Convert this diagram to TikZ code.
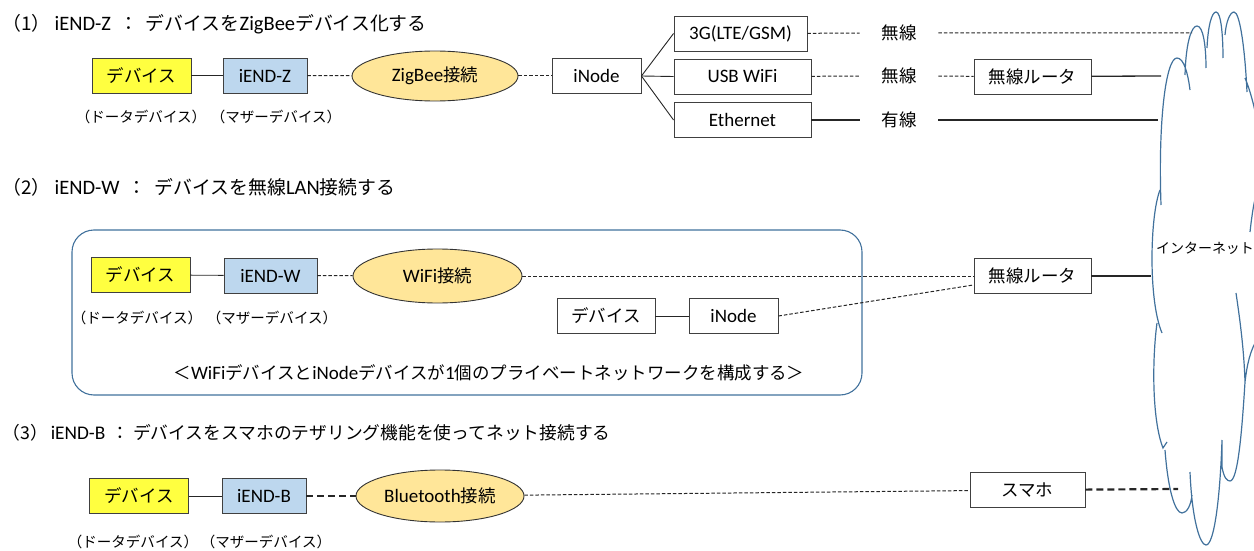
\documentclass[tikz,border=0pt]{standalone}
\usepackage{fontspec}
\setmainfont{Carlito}
\newfontfamily\jp[Scale=0.92]{Noto Sans CJK JP}
\usetikzlibrary{shapes.geometric}
\definecolor{devyellow}{RGB}{255,255,64}
\definecolor{iendblue}{RGB}{189,215,238}
\definecolor{linkorange}{RGB}{255,230,153}
\definecolor{cloudblue}{RGB}{65,113,156}
\tikzset{
	dev/.style={draw=black!75, rectangle, inner sep=2pt, minimum width=99pt, minimum height=35pt, fill=devyellow},
	iend/.style={draw=black!75, rectangle, inner sep=2pt, minimum width=84pt, minimum height=35pt, fill=iendblue},
	link/.style={draw=black!80, ellipse, inner sep=2pt, minimum width=166pt, minimum height=50pt, fill=linkorange},
	unit/.style={draw=black!75, rectangle, inner sep=2pt, minimum height=35pt, fill=white},
	% captions under the device pairs
	subnote/.style={font=\jp\fontsize{15.8pt}{18pt}\selectfont, inner sep=0pt},
	medium/.style={inner sep=0pt, minimum width=78pt, minimum height=20pt},
	heading/.style={anchor=west, inner sep=0pt, font=\fontsize{20.5pt}{24pt}\selectfont},
	wless/.style={dash pattern=on 3.5pt off 2pt, line width=1pt},
	btdash/.style={dash pattern=on 7pt off 4pt, line width=2.2pt},
}

\begin{document}
\begin{tikzpicture}[x=1pt, y=-1pt, font=\fontsize{19pt}{23pt}\selectfont, line width=0.9pt]
	\useasboundingbox (0,0) rectangle (1254,551);

	% (1) ZigBee
	\node (h1) [heading] at (2,24) {{\jp（1）}\hspace{4pt}iEND-Z\hspace{8pt}{\jp：}\hspace{8pt}{\jp デバイスを}ZigBee{\jp デバイス化する}};
	\node (d1) [dev] at (141.5,75.5) {\jp デバイス};
	\node (ez) [iend] at (265,75.5) {iEND-Z};
	\node (zb) [link] at (435,76) {ZigBee{\jp 接続}};
	\node (in1) [unit, minimum width=89pt] at (596.5,76) {iNode};
	\node (g3) [unit, minimum width=133pt] at (740.5,33.5) {3G(LTE/GSM)};
	\node (usb) [unit, minimum width=137pt] at (742.5,76.5) {USB WiFi};
	\node (eth) [unit, minimum width=137pt] at (742.5,120) {Ethernet};
	\node (l1) [medium] at (899,33) {\jp 無線};
	\node (l2) [medium] at (899,76) {\jp 無線};
	\node (l3) [medium] at (899,120) {\jp 有線};
	\node (r1) [unit, minimum width=117pt] at (1032.5,76.5) {\jp 無線ルータ};
	\coordinate (c1) at (1192,33);
	\coordinate (c2) at (1161,76);
	\coordinate (c3) at (1158,120);
	\node (cd1) [subnote] at (141,117) {（ドータデバイス）};
	\node (cm1) [subnote] at (276,117) {（マザーデバイス）};

	% (2) WiFi
	\node (h2) [heading] at (2,187) {{\jp（2）}\hspace{4pt}iEND-W\hspace{8pt}{\jp：}\hspace{8pt}{\jp デバイスを無線}LAN{\jp 接続する}};
	\draw [cloudblue, line width=1.1pt, rounded corners=22pt] (72,230) rectangle (862,395);
	\node (d2) [dev] at (140.5,275) {\jp デバイス};
	\node (ew) [iend, minimum width=93pt] at (270.5,275.5) {iEND-W};
	\node (wf) [link, minimum width=169pt, minimum height=54pt] at (437.5,276) {WiFi{\jp 接続}};
	\node (d3) [unit, minimum width=98pt] at (606,316) {\jp デバイス};
	\node (in2) [unit, minimum width=89pt] at (733.5,316) {iNode};
	\node (r2) [unit, minimum width=117pt] at (1032.5,276) {\jp 無線ルータ};
	\coordinate (c4) at (1151,276);
	\node (cd2) [subnote] at (137,318) {（ドータデバイス）};
	\node (cm2) [subnote] at (272,318) {（マザーデバイス）};
	\node (pn) at (489,373) {{\jp ＜}WiFi{\jp デバイスと}iNode{\jp デバイスが}1{\jp 個のプライベートネットワークを構成する＞}};

	% (3) Bluetooth
	\node (h3) [heading, font=\fontsize{19.3pt}{23pt}\selectfont] at (2,433) {{\jp（3）}\hspace{3pt}iEND-B\hspace{6pt}{\jp：}\hspace{4pt}{\jp デバイスをスマホのテザリング機能を使ってネット接続する}};
	\node (d4) [dev] at (139,496) {\jp デバイス};
	\node (eb) [iend] at (264,496) {iEND-B};
	\node (bt) [link, minimum width=168pt, minimum height=52pt] at (440,496) {Bluetooth{\jp 接続}};
	\node (sm) [unit, minimum width=115pt] at (1027.5,490) {\jp スマホ};
	\coordinate (c5) at (1178,489);
	\node (cd3) [subnote] at (133,542) {（ドータデバイス）};
	\node (cm3) [subnote] at (266,542) {（マザーデバイス）};

	% internet cloud, cut at the right edge
	\begin{scope}
		\clip (0,0) rectangle (1254,551);
		\draw [cloudblue, line width=1.2pt]
			(1161,205) .. controls (1158,120) and (1166,58) .. (1177,58) .. controls (1184,58) and (1188,74) .. (1190,90)
			(1185,75) .. controls (1186,40) and (1192,26) .. (1197,26) .. controls (1203,26) and (1206,45) .. (1206,68)
			(1207,48) .. controls (1208,25) and (1212,12) .. (1216,12) .. controls (1221,12) and (1223,35) .. (1223,58)
			(1225,35) .. controls (1226,22) and (1230,12) .. (1234,12) .. controls (1240,12) and (1245,50) .. (1247,92)
			(1245,78) .. controls (1250,90) and (1256,110) .. (1260,140)
			(1262,180) .. controls (1256,190) and (1253,205) .. (1250,232)
			(1236,293) .. controls (1240,320) and (1244,350) .. (1245,382) .. controls (1247,365) and (1250,350) .. (1258,338)
			(1222,440) -- (1222,467) .. controls (1224,478) and (1227,481) .. (1230,481) .. controls (1238,481) and (1242,430) .. (1245,382)
			(1190,472) .. controls (1192,520) and (1200,545) .. (1206,545) .. controls (1214,545) and (1220,500) .. (1222,440)
			(1165,450) .. controls (1168,490) and (1175,513) .. (1182,513) .. controls (1187,513) and (1191,505) .. (1192,495)
			(1157,323) .. controls (1152,360) and (1152,420) .. (1163,448) -- (1167,442)
			(1160,190) .. controls (1150,215) and (1148,300) .. (1162,333);
	\end{scope}
	\node (net) [font=\jp\fontsize{15.2pt}{17pt}\selectfont, inner sep=0pt] at (1205,248) {インターネット};

	\begin{scope}[black!85]
		\draw (d1) -- (ez);
		\draw [wless] (ez) -- (zb);
		\draw [wless] (zb) -- (in1);
		\draw (in1.east) -- (g3.west);
		\draw (in1.east) -- (usb.west);
		\draw (in1.east) -- (eth.west);
		\draw [wless] (g3) -- (l1) -- (c1);
		\draw [wless] (usb) -- (l2) -- (r1);
		\draw [line width=1.3pt] (r1) -- (c2);
		\draw [line width=1.3pt] (eth) -- (l3) -- (c3);

		\draw (d2) -- (ew);
		\draw [wless] (ew) -- (wf);
		\draw [wless] (wf) -- (r2);
		\draw (d3) -- (in2);
		\draw [wless] (in2.east) -- ([yshift=9pt]r2.south west);
		\draw [line width=1.3pt] (r2) -- (c4);

		\draw (d4) -- (eb);
		\draw [btdash] (eb) -- (bt);
		\draw [wless] (bt) -- (sm);
		\draw [btdash] (sm) -- (c5);
	\end{scope}
\end{tikzpicture}
\end{document}
